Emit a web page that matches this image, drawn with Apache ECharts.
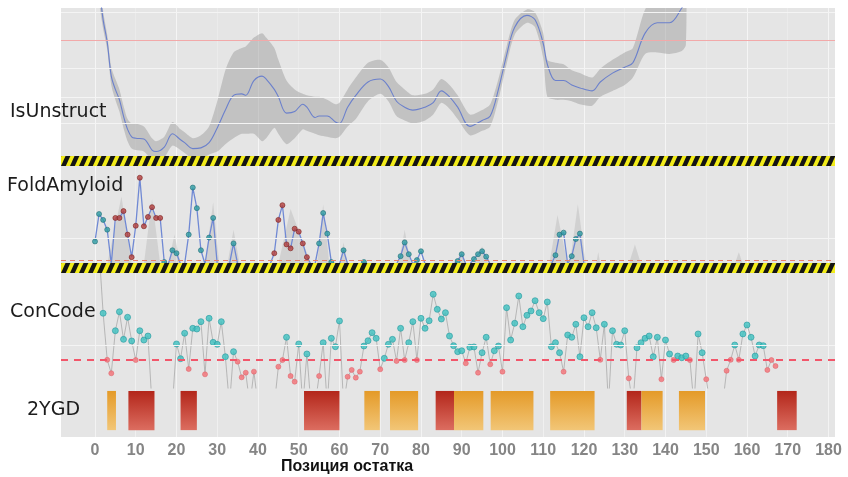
<!DOCTYPE html>
<html>
<head>
<meta charset="utf-8">
<script src="https://cdn.jsdelivr.net/npm/echarts@6/dist/echarts.min.js"></script>
<style>html,body{margin:0;padding:0;background:#fff;}#c{width:848px;height:477px;}</style>
</head>
<body>
<div id="c"></div>
<script>
// ---------- DATA ----------
const xTicks = [0,10,20,30,40,50,60,70,80,90,100,110,120,130,140,150,160,170,180];

// IsUnstruct profile (residue, value, lower / upper bound)
const isuPos = [1,2,3,4,5,6,7,8,9,10,12,14,15,17,19,21,22,24,26,28,30,32,34,36,37,39,41,42,44,45,47,49,51,52,54,55,57,59,60,62,64,67,70,72,74,76,78,81,83,85,87,89,92,95,97,99,101,103,106,108,110,111,113,115,117,119,122,124,127,130,132,135,138,141,144,145];
const isuVal = [1.15,0.92,0.77,0.54,0.45,0.38,0.27,0.18,0.13,0.12,0.115,0.04,0.03,0.06,0.15,0.11,0.09,0.05,0.055,0.09,0.19,0.31,0.41,0.42,0.41,0.51,0.54,0.52,0.45,0.40,0.29,0.30,0.35,0.33,0.26,0.27,0.27,0.23,0.22,0.33,0.41,0.50,0.52,0.47,0.37,0.33,0.31,0.33,0.36,0.44,0.40,0.33,0.20,0.24,0.27,0.45,0.68,0.87,0.95,0.92,0.76,0.62,0.51,0.51,0.48,0.46,0.44,0.50,0.56,0.60,0.63,0.83,0.90,0.90,1.00,1.06];
const isuLo  = [1.05,0.86,0.72,0.48,0.38,0.30,0.19,0.10,0.05,0.04,0.03,-0.03,-0.04,-0.01,0.07,0.04,0.02,-0.02,-0.02,0.01,0.03,0.08,0.12,0.15,0.15,0.15,0.10,0.12,0.19,0.15,0.08,0.12,0.18,0.17,0.15,0.14,0.13,0.12,0.13,0.20,0.25,0.37,0.42,0.37,0.27,0.24,0.22,0.24,0.28,0.36,0.32,0.25,0.14,0.17,0.20,0.38,0.62,0.82,0.90,0.87,0.66,0.40,0.38,0.38,0.37,0.35,0.34,0.40,0.44,0.48,0.53,0.69,0.70,0.69,0.71,0.75];
const isuHi  = [1.25,0.98,0.82,0.60,0.52,0.45,0.34,0.25,0.22,0.22,0.20,0.12,0.10,0.13,0.23,0.18,0.16,0.12,0.14,0.20,0.37,0.58,0.70,0.73,0.74,0.80,0.83,0.80,0.73,0.65,0.51,0.45,0.42,0.41,0.40,0.40,0.38,0.35,0.36,0.45,0.53,0.63,0.65,0.60,0.50,0.45,0.41,0.42,0.45,0.52,0.48,0.41,0.28,0.31,0.35,0.52,0.74,0.92,0.99,0.97,0.83,0.65,0.63,0.62,0.58,0.56,0.53,0.59,0.65,0.70,0.73,0.99,1.08,1.10,1.25,1.30];
const isuThreshold = 0.784;
const isuGrid = [0.223,0.399,0.595,0.966];

// FoldAmyloid (value per residue, starting at residue 0)
const faVal = [
0.23,0.51,0.45,0.35,0,0.47,0.47,0.54,0.30,0.07,
0.39,0.88,0.385,0.48,0.58,0.47,0.47,0.02,0,0.14,
0.11,0,0,0.30,0.78,0.57,0.14,0,0.27,0.47,
0,0,0,0,0.21,0,0,0,0,0,
0,0,0,0,0.11,0.45,0.60,0.20,0.16,0.36,
0.33,0.21,0.07,0,0,0.21,0.52,0.31,0.02,0,
0,0.14,0,0,0,0,0.02,0,0,0,
0,0,0,0,0,0.08,0.22,0.10,0,0.04,
0.13,0,0,0,0,0,0,0,0,0.03,
0.10,0,0,0.05,0.10,0.13,0.075,0,0,0,
0,0,0,0,0,0,0,0,0,0,
0,0,0,0.09,0.30,0.32,0,0.08,0.255,0.31,
0,0,0,0,0,0,0,0,0,0];
const faRedRanges = [[5,16],[44,52]];
const faShadeX = [3,6.5,9, 12,14,16, 18,19.5,21, 27,29,30.5, 32.5,34,35.5, 45,48,53, 54.5,56,57.5, 60,61,62, 74.5,76,77.5, 88.5,90,91, 93,95,96.5, 111.5,113.5,116, 116.5,118.5,120.5, 123,123.5,124, 131,132.5,134, 157,158,159];
const faShadeY = [0,0.69,0, 0,0.66,0, 0,0.30,0, 0,0.63,0, 0,0.35,0, 0,0.56,0, 0,0.61,0, 0,0.22,0, 0,0.35,0, 0,0.14,0, 0,0.18,0, 0,0.50,0, 0,0.61,0, 0,0.12,0, 0,0.20,0, 0,0.12,0];
const faThreshold = 0.041;
const faGrid = [0.258];

// ConCode (residue 1..167; null = missing, negative = below panel)
const ccVal = [
1.2,0.65,0.245,0.128,0.498,0.663,0.423,0.615,0.409,0.243,   //1-10
0.498,0.417,0.452,-0.15,null,null,null,null,-0.15,0.383,     //11-20
0.255,0.476,0.165,0.519,0.513,0.577,0.119,0.606,0.397,0.380, //21-30
0.577,0.272,-0.15,0.316,0.229,0.093,0.133,-0.15,0.142,-0.15, //31-40
null,null,null,-0.15,0.185,0.243,0.441,0.104,0.055,0.383,    //41-50
-0.15,0.296,-0.15,-0.15,0.104,0.394,-0.15,0.432,0.359,0.583, //51-60
-0.15,0.098,0.157,0.090,0.142,0.365,0.411,0.481,0.432,0.163, //61-70
0.258,0.380,0.423,0.235,0.519,0.243,0.394,0.577,0.243,0.606, //71-80
0.519,0.585,0.815,0.684,0.600,0.655,0.452,0.368,0.316,0.324, //81-90
0.215,0.354,0.357,0.133,0.307,0.441,0.206,0.324,0.365,0.142, //91-100
0.698,0.417,0.563,0.800,0.533,0.632,0.670,0.759,0.655,0.603, //101-110
0.748,0.359,0.394,0.307,0.142,0.461,0.441,0.554,0.272,0.611, //111-120
0.533,0.655,0.524,0.245,0.554,-0.15,0.498,0.380,0.374,0.498, //121-130
0.084,-0.15,0.350,0.394,0.432,0.452,0.272,0.441,0.076,0.417, //131-140
0.296,0.243,0.278,0.263,0.278,0.243,-0.15,0.470,0.307,0.076, //141-150
-0.15,null,null,-0.15,0.150,0.245,0.374,0.245,0.470,0.548,   //151-160
0.441,0.278,0.374,0.368,0.157,0.243,0.191];                  //161-167
const ccThreshold = 0.25;
const ccGrid = [0.374];

// 2YGD secondary-structure segments
const ygdStart = [3, 8.2, 21, 51.3, 66.1, 72.4, 83.6, 88.1, 97.1, 111.7, 130.5, 134.1, 143.3, 167.4];
const ygdEnd   = [5.15, 14.6, 25, 60, 69.9, 79.3, 88.1, 95.3, 107.6, 122.6, 134.1, 139.3, 149.7, 172.2];
const ygdKind  = ['o','r','r','r','o','o','r','o','o','o','r','o','o','r'];

const panelLabels = ['IsUnstruct','FoldAmyloid','ConCode','2YGD'];
const axisTitle = 'Позиция остатка';

// ---------- CHART ----------
const XMIN = -8.34, XMAX = 181.6;
const chart = echarts.init(document.getElementById('c'), null, {renderer:'canvas'});

function stripeCanvas(){
  const P = 9, H = 10;
  const c = document.createElement('canvas'); c.width = P; c.height = H;
  const g = c.getContext('2d');
  g.fillStyle = '#f2ec1a'; g.fillRect(0,0,P,H);
  g.fillStyle = '#141414';
  for (let k=-1;k<=1;k++){
    const o = k*P;
    g.beginPath(); g.moveTo(o,H); g.lineTo(o+4.5,0); g.lineTo(o+9.3,0); g.lineTo(o+4.8,H); g.closePath(); g.fill();
  }
  return c;
}
const stripeImg = stripeCanvas();

const grids = [
  {top:8, height:148},
  {top:166, height:98},
  {top:273, height:115},
  {top:388, height:49}
].map(g => Object.assign({left:61, right:13, show:true, backgroundColor:'#e5e5e5', borderWidth:0}, g));

const xAxes = grids.map((g,i) => ({
  type:'value', gridIndex:i, min:XMIN, max:XMAX,
  axisLine:{show:false},
  axisTick:{show:false, customValues:xTicks},
  axisLabel: i===3 ? {show:true, customValues:xTicks, color:'#858585', fontSize:16, fontWeight:'bold', fontFamily:'Liberation Sans', margin:6} : {show:false},
  splitLine:{show:true, lineStyle:{width:1, color: i<2 ? ['#f5f5f5','#ebebeb'] : ['#f3f3f3','#f0f0f0']}}
}));
const yAxes = grids.map((g,i) => ({
  type:'value', gridIndex:i, min:0, max:1,
  axisLine:{show:false}, axisTick:{show:false}, axisLabel:{show:false}, splitLine:{show:false}
}));

function gridMark(vals, thr, thrStyle){
  const data = vals.map(v => ({yAxis:v, lineStyle:{color:'#f4f4f4', width:1, type:'solid'}}));
  if (thr !== null) data.push({yAxis:thr, lineStyle:thrStyle});
  return {silent:true, symbol:'none', label:{show:false}, data:data};
}

const isuLineData = isuPos.map((p,i) => [p, isuVal[i]]);
const faLineData = faVal.map((v,i) => [i, v]);
function faIsRed(r){ return faRedRanges.some(rg => r>=rg[0] && r<=rg[1]); }
const faTeal = [], faRed = [];
faVal.forEach((v,i) => { if (v>0) (faIsRed(i) ? faRed : faTeal).push([i,v]); });
const faShadeData = faShadeX.map((x,i) => [x, faShadeY[i]]);

const ccLineData = ccVal.map((v,i) => [i+1, v===null ? '-' : v]);
const ccTeal = [], ccRed = [];
ccVal.forEach((v,i) => { if (v!==null && v>=0 && v<=1) (v>=ccThreshold ? ccTeal : ccRed).push([i+1, v]); });

const ygdData = ygdStart.map((s,i) => [s, ygdEnd[i], ygdKind[i]==='r' ? 1 : 0]);

const option = {
  animation:false,
  grid: grids,
  xAxis: xAxes,
  yAxis: yAxes,
  series: [
    // IsUnstruct gridlines + threshold
    {type:'line', xAxisIndex:0, yAxisIndex:0, data:[], z:1,
     markLine: gridMark(isuGrid, isuThreshold, {color:'#f2a9a9', width:1.2, type:'solid'})},
    {type:'custom', xAxisIndex:0, yAxisIndex:0, data:[[0,0]], clip:true, z:2,
     renderItem: function(params, api){
       const pts = [];
       for (let i=0;i<isuPos.length;i++) pts.push(api.coord([isuPos[i], isuHi[i]]));
       for (let i=isuPos.length-1;i>=0;i--) pts.push(api.coord([isuPos[i], isuLo[i]]));
       return {type:'polygon', shape:{points:pts, smooth:0.25}, style:{fill:'rgba(150,150,150,0.45)'}};
     }},
    {type:'line', xAxisIndex:0, yAxisIndex:0, data:isuLineData, smooth:0.35, showSymbol:false, z:3,
     lineStyle:{color:'#6b80cc', width:1.1}},

    // FoldAmyloid
    {type:'line', xAxisIndex:1, yAxisIndex:1, data:faShadeData, showSymbol:false, z:2,
     lineStyle:{width:0}, areaStyle:{color:'rgba(150,150,150,0.35)'},
     markLine: gridMark(faGrid, faThreshold, {color:'#e8806a', width:1.2, type:[5,4]})},
    {type:'line', xAxisIndex:1, yAxisIndex:1, data:faLineData, showSymbol:false, z:3,
     lineStyle:{color:'#7089d4', width:1.3}},
    {type:'scatter', xAxisIndex:1, yAxisIndex:1, data:faTeal, symbolSize:5, z:4,
     itemStyle:{color:'#2f9ea3', borderColor:'#226f7a', borderWidth:0.8}},
    {type:'scatter', xAxisIndex:1, yAxisIndex:1, data:faRed, symbolSize:5, z:4,
     itemStyle:{color:'#b5403c', borderColor:'#7e2424', borderWidth:0.8}},

    // ConCode
    {type:'line', xAxisIndex:2, yAxisIndex:2, data:ccLineData, showSymbol:false, connectNulls:false, z:3,
     lineStyle:{color:'#a9a9a9', width:0.8},
     markLine: gridMark(ccGrid, ccThreshold, {color:'#f2566a', width:2, type:[7,6]})},
    {type:'scatter', xAxisIndex:2, yAxisIndex:2, data:ccTeal, symbolSize:6, z:4,
     itemStyle:{color:'#3dc2c0', borderColor:'#2b9aa0', borderWidth:0.8}},
    {type:'scatter', xAxisIndex:2, yAxisIndex:2, data:ccRed, symbolSize:5, z:4,
     itemStyle:{color:'#f27d82', borderColor:'#e0606a', borderWidth:0.6, opacity:0.9}},

    // 2YGD
    {type:'custom', xAxisIndex:3, yAxisIndex:3, data:ygdData, z:3,
     encode:{x:[0,1]},
     renderItem: function(params, api){
       const s = api.value(0), e = api.value(1), k = api.value(2);
       const p1 = api.coord([s, 0.94]), p2 = api.coord([e, 0.14]);
       const stops = k===1
         ? [{offset:0,color:'#b3261a'},{offset:1,color:'#dc6d60'}]
         : [{offset:0,color:'#e49a28'},{offset:1,color:'#f2c677'}];
       return {type:'rect', shape:{x:p1[0], y:p1[1], width:p2[0]-p1[0], height:p2[1]-p1[1]},
               style:{fill:new echarts.graphic.LinearGradient(0,0,0,1,stops)}};
     }}
  ],
  graphic: [
    {type:'rect', x:61, y:156, z:100, shape:{x:0,y:0,width:774,height:10}, style:{fill:{image:stripeImg, repeat:'repeat'}}},
    {type:'rect', x:61, y:263, z:100, shape:{x:0,y:0,width:774,height:10}, style:{fill:{image:stripeImg, repeat:'repeat'}}},
    {type:'text', x:10, y:112, z:101, style:{text:panelLabels[0], font:'19px "DejaVu Sans"', fill:'#1c1c1c', verticalAlign:'middle'}},
    {type:'text', x:7,  y:186, z:101, style:{text:panelLabels[1], font:'19px "DejaVu Sans"', fill:'#1c1c1c', verticalAlign:'middle'}},
    {type:'text', x:10, y:312, z:101, style:{text:panelLabels[2], font:'19px "DejaVu Sans"', fill:'#1c1c1c', verticalAlign:'middle'}},
    {type:'text', x:27, y:410, z:101, style:{text:panelLabels[3], font:'19px "DejaVu Sans"', fill:'#1c1c1c', verticalAlign:'middle'}},
    {type:'text', x:347, y:467, z:101, style:{text:axisTitle, font:'bold 16px "Liberation Sans"', fill:'#111', align:'center', verticalAlign:'middle'}}
  ]
};
chart.setOption(option);
</script>
</body>
</html>
